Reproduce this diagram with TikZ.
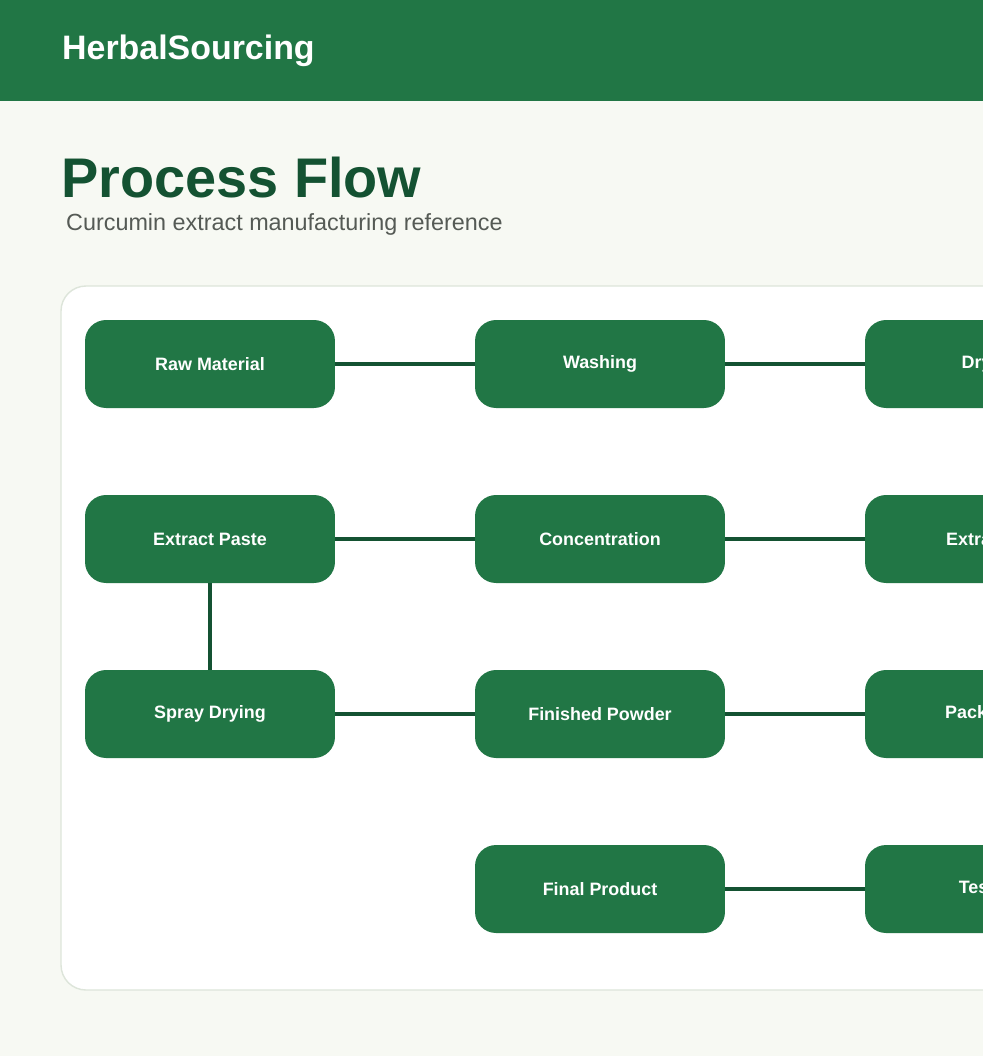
\documentclass[tikz,border=0pt]{standalone}
\usepackage{fontspec}
\setmainfont{Liberation Sans}
\usetikzlibrary{positioning}
\definecolor{leaf}{HTML}{217645}
\definecolor{forest}{HTML}{145232}
\definecolor{paper}{HTML}{F7F9F3}
\definecolor{rim}{HTML}{DDE5DA}
\definecolor{slate}{HTML}{555A55}
\begin{document}
\begin{tikzpicture}[x=0.02cm, y=-0.02cm,
    stage/.style={fill=leaf, rounded corners=0.42cm, minimum width=5cm, minimum height=1.76cm,
      text=white, font=\fontsize{10.2}{12}\selectfont\bfseries, inner sep=0pt},
    link/.style={forest, line width=2.5pt}]
    %% Background
    \useasboundingbox (0,0) rectangle (983,1056);
    \clip (0,0) rectangle (983,1056);
    \fill[paper] (0,0) rectangle (983,1056);
    \fill[leaf] (0,0) rectangle (983,101);

    %% Titles
    \node[anchor=west, text=white, font=\fontsize{19.3}{21}\selectfont\bfseries] (brand) at (56,51) {HerbalSourcing};
    \node[anchor=west, text=forest, font=\fontsize{31.8}{35}\selectfont\bfseries] (title) at (55,178) {Process Flow};
    \node[anchor=west, text=slate, font=\fontsize{13.3}{15}\selectfont] (sub) at (60,224) {Curcumin extract manufacturing reference};

    %% Panel
    \draw[rim, fill=white, line width=0.8pt, rounded corners=0.5cm] (61,286) rectangle (1100,990);

    %% Stages
    \node[stage] (raw) at (210,364) {Raw Material};
    \node[stage] (wash) at (600,364) {Washing};
    \node[stage] (dry) at (990,364) {Drying};
    \node[stage] (paste) at (210,539) {Extract Paste};
    \node[stage] (conc) at (600,539) {Concentration};
    \node[stage] (extr) at (990,539) {Extraction};
    \node[stage] (spray) at (210,714) {Spray Drying};
    \node[stage] (powder) at (600,714) {Finished Powder};
    \node[stage] (pack) at (990,714) {Packaging};
    \node[stage] (final) at (600,889) {Final Product};
    \node[stage] (test) at (990,889) {Testing};

    %% Links
    \draw[link] (raw) -- (wash);
    \draw[link] (wash) -- (dry);
    \draw[link] (paste) -- (conc);
    \draw[link] (conc) -- (extr);
    \draw[link] (paste) -- (spray);
    \draw[link] (spray) -- (powder);
    \draw[link] (powder) -- (pack);
    \draw[link] (final) -- (test);
\end{tikzpicture}
\end{document}
